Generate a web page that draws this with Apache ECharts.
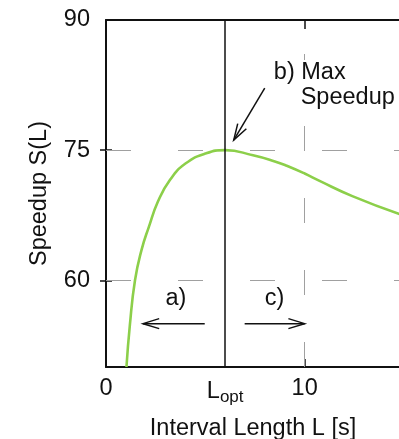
<!DOCTYPE html>
<html>
<head>
<meta charset="utf-8" />
<title>Speedup S(L)</title>
<script src="https://cdn.jsdelivr.net/npm/echarts@6/dist/echarts.min.js"></script>
<style>
    html, body { margin: 0; padding: 0; background: #fff; }
    #main { width: 399px; height: 439px; }
</style>
</head>
<body>
<div id="main"></div>
<script>
    // curve
    var intervalLen = [1.03, 1.2, 1.46, 1.79, 2.15, 2.62, 3.2, 4.0, 5.0, 6.0, 7.4, 8.5, 9.1, 10.0, 10.75, 12.4, 14.8];
    var speedup = [50, 54.8, 60, 63.5, 66.1, 69.1, 71.5, 73.45, 74.6, 75.0, 74.4, 73.7, 73.2, 72.3, 71.45, 69.7, 67.6];

    var xLabels = [0, 6, 10];
    var yLabels = [60, 75, 90];
    var lOpt = 6;

    // arrows: from (x1, y1) to tip (x2, y2)
    var arrows = [
        [7.99, 82.15, 6.43, 76.15],
        [4.97, 55.0, 1.86, 55.0],
        [6.98, 55.0, 10.0, 55.0]
    ];
    // notes: x, y, text, align
    var notes = [
        [3.52, 57.9, 'a)', 'center'],
        [8.49, 57.9, 'c)', 'center'],
        [8.45, 84.0, 'b) Max', 'left'],
        [9.8, 81.1, 'Speedup', 'left']
    ];

    var font = "'Liberation Sans', Arial, sans-serif";
    var fs = 23.5;
    var black = '#111';
    var grey = '#a0a0a0';

    var curve = intervalLen.map(function (l, i) { return [l, speedup[i]]; });

    function renderArrow(params, api) {
        var p1 = api.coord([api.value(0), api.value(1)]);
        var p2 = api.coord([api.value(2), api.value(3)]);
        var a = Math.atan2(p1[1] - p2[1], p1[0] - p2[0]);
        var len = 17, spread = 0.3;
        var h1 = [p2[0] + len * Math.cos(a + spread), p2[1] + len * Math.sin(a + spread)];
        var h2 = [p2[0] + len * Math.cos(a - spread), p2[1] + len * Math.sin(a - spread)];
        var st = { stroke: black, lineWidth: 1.5, fill: null };
        return {
            type: 'group',
            children: [
                { type: 'line', shape: { x1: p1[0], y1: p1[1], x2: p2[0], y2: p2[1] }, style: st },
                { type: 'polyline', shape: { points: [h1, p2, h2] }, style: st }
            ]
        };
    }

    function renderNote(params, api) {
        var p = api.coord([api.value(0), api.value(1)]);
        var n = notes[params.dataIndex];
        return {
            type: 'text',
            x: p[0], y: p[1],
            style: {
                text: n[2], fill: black, font: fs + 'px ' + font,
                align: n[3], verticalAlign: 'middle',
                backgroundColor: '#fff'
            }
        };
    }

    var chart = echarts.init(document.getElementById('main'));
    chart.setOption({
        animation: false,
        backgroundColor: '#fff',
        textStyle: { fontFamily: font },
        grid: { left: 106, top: 20, right: -1, bottom: 72, containLabel: false, outerBoundsMode: 'none' },
        xAxis: [{
            type: 'value', min: 0, max: 14.8, position: 'bottom',
            name: 'Interval Length L [s]', nameLocation: 'middle', nameGap: 50,
            nameTextStyle: { fontSize: fs, color: black, fontFamily: font },
            axisLine: { show: true, onZero: false, lineStyle: { color: black, width: 2 } },
            axisTick: { show: true, inside: true, length: 8, customValues: [10], lineStyle: { color: black, width: 1.5 } },
            axisLabel: {
                customValues: xLabels, margin: 10, fontSize: fs, color: black, fontFamily: font,
                formatter: function (v) { return v === lOpt ? '{l|L}{s|opt}' : String(v); },
                rich: {
                    l: { fontSize: fs, color: black, fontFamily: font },
                    s: { fontSize: 17, color: black, fontFamily: font, padding: [12, 0, 0, 0] }
                }
            },
            splitLine: { show: false }
        }, {
            type: 'value', min: 0, max: 14.8, position: 'top',
            axisLine: { show: true, onZero: false, lineStyle: { color: black, width: 2 } },
            axisTick: { show: true, inside: true, length: 9, customValues: [10], lineStyle: { color: black, width: 1.5 } },
            axisLabel: { show: false },
            splitLine: { show: false }
        }],
        yAxis: [{
            type: 'value', min: 50, max: 90, position: 'left',
            name: 'Speedup S(L)', nameLocation: 'middle', nameGap: 54, nameRotate: 90,
            nameTextStyle: { fontSize: fs, color: black, fontFamily: font },
            axisLine: { show: true, onZero: false, lineStyle: { color: black, width: 2 } },
            axisTick: { show: true, inside: true, length: 6, customValues: [60, 75], lineStyle: { color: black, width: 1.5 } },
            axisLabel: { customValues: yLabels, margin: 16, fontSize: fs, color: black, fontFamily: font },
            splitLine: { show: false }
        }, {
            type: 'value', min: 50, max: 90, position: 'right',
            axisLine: { show: false },
            axisTick: { show: true, inside: true, length: 6, customValues: [60, 75], lineStyle: { color: black, width: 1.5 } },
            axisLabel: { show: false },
            splitLine: { show: false }
        }],
        series: [{
            type: 'line',
            data: [],
            silent: true,
            markLine: {
                silent: true, symbol: 'none', label: { show: false },
                lineStyle: { color: grey, width: 1, type: [25, 47] },
                data: [
                    { yAxis: 60 },
                    { yAxis: 75 },
                    { xAxis: 10 },
                    { xAxis: lOpt, lineStyle: { color: black, width: 1.5, type: 'solid' } }
                ]
            }
        }, {
            type: 'line',
            data: curve,
            smooth: 0.5,
            showSymbol: false,
            lineStyle: { color: '#8ccf4a', width: 2.6 },
            z: 3
        }, {
            type: 'custom',
            data: arrows,
            renderItem: renderArrow,
            silent: true,
            z: 4
        }, {
            type: 'custom',
            data: notes.map(function (n) { return [n[0], n[1]]; }),
            renderItem: renderNote,
            silent: true,
            z: 5
        }]
    });
</script>
</body>
</html>
